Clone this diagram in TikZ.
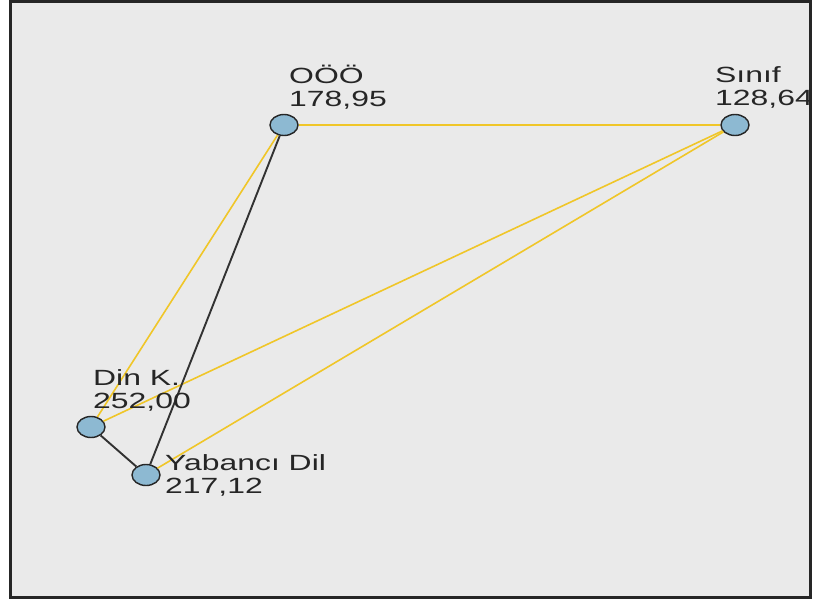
\documentclass[tikz,border=0pt]{standalone}
\usepackage{fontspec}
\setmainfont{Liberation Sans}[FakeStretch=1.45]
\usetikzlibrary{shapes.geometric}
\definecolor{bgcol}{RGB}{234,234,234}
\definecolor{vfill}{RGB}{141,185,210}
\definecolor{linkyellow}{RGB}{240,198,40}
\definecolor{linkdark}{RGB}{50,50,50}

\begin{document}
\begin{tikzpicture}[x=1pt, y=-1pt,
		vertex/.style={ellipse, draw=black!85, line width=1.4pt, fill=vfill, minimum width=28pt, minimum height=21pt, inner sep=0pt},
		vlabel/.style={anchor=base west, align=left, inner sep=0pt, font=\fontsize{22}{23}\selectfont, text=black!85},
		weak/.style={draw=linkyellow, line width=1.6pt},
		strong/.style={draw=linkdark, line width=1.9pt}]
		\useasboundingbox (0,0) rectangle (814,603);
		\draw [fill=bgcol, draw=black!85, line width=2.5pt] (10.5,1.5) rectangle (810.5,597.5);

		\path	(284,125) node[vertex](ooo) {}
			(735,125) node[vertex](sinif) {}
			(91,427) node[vertex](din) {}
			(146,475) node[vertex](yd) {};

		\draw [weak] (ooo) -- (sinif);
		\draw [weak] (ooo) -- (din);
		\draw [weak] (sinif) -- (din);
		\draw [weak] (sinif) -- (yd);
		\draw [strong] (ooo) -- (yd);
		\draw [strong] (din) -- (yd);

		\node[vlabel] (l0) at (289,106) {OÖÖ\\178,95};
		\node[vlabel] (l1) at (715,105) {Sınıf\\128,64};
		\node[vlabel] (l2) at (93,408) {Din K.\\252,00};
		\node[vlabel] (l3) at (165,493) {Yabancı Dil\\217,12};
	\end{tikzpicture}
\end{document}
